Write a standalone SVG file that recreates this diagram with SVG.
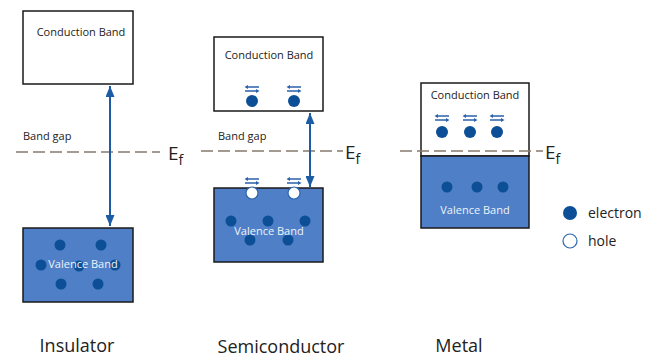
<svg xmlns="http://www.w3.org/2000/svg" width="646" height="358" viewBox="0 0 646 358">
<style>
text{font-family:"Open Sans","Noto Sans","DejaVu Sans",sans-serif;}
.cb{fill:#ffffff;stroke:#1a1a1a;stroke-width:1.5;}
.vb{fill:#4f7fc6;stroke:#1a1a1a;stroke-width:1.5;}
.lbl{font-size:11px;fill:#222;text-anchor:middle;}
.vl{font-size:11px;fill:#eef3fb;text-anchor:middle;}
.e{fill:#0c4f96;}
.h{fill:#ffffff;stroke:#2d66ae;stroke-width:1.2;}
.fermi{stroke:#857a6e;stroke-width:1.5;stroke-dasharray:12 5;fill:none;}
.ef{font-size:19px;fill:#222;}
.efs{font-size:14px;fill:#222;}
.gap{font-size:11px;fill:#222;}
.big{stroke:#1b5ca5;stroke-width:2;fill:none;}
.sm{stroke:#2a62aa;stroke-width:1.3;fill:none;}
.smh{fill:#2a62aa;}
.title{font-size:18px;fill:#222;text-anchor:middle;}
.leg{font-size:14px;fill:#222;}
</style>
<defs>
<marker id="ah" viewBox="0 0 11 9" refX="11" refY="4.5" markerWidth="5.5" markerHeight="4.5" orient="auto-start-reverse" markerUnits="strokeWidth">
<path d="M0,0 L11,4.5 L0,9 Z" fill="#1b5ca5"/>
</marker>
<g id="dbl">
<path class="sm" d="M-5,-2 H7 M-7,2 H5"/>
<path class="smh" d="M-7.5,-2 L-4,-4 L-4,0 Z M7.5,2 L4,0 L4,4 Z"/>
</g>
</defs>

<g id="insulator">
<g id="ins-conduction">
<rect class="cb" x="23" y="11" width="110" height="73"/>
<text class="lbl" x="81" y="36">Conduction Band</text>
</g>
<g id="ins-valence">
<rect class="vb" x="23" y="228" width="110" height="74"/>
<circle class="e" cx="60" cy="245" r="5.5"/>
<circle class="e" cx="101" cy="245" r="5.5"/>
<circle class="e" cx="41" cy="265" r="5.5"/>
<circle class="e" cx="79" cy="266" r="5.5"/>
<circle class="e" cx="115" cy="265" r="5.5"/>
<circle class="e" cx="61" cy="284" r="5.5"/>
<circle class="e" cx="98" cy="284" r="5.5"/>
<text class="vl" x="83" y="268">Valence Band</text>
</g>
<text class="gap" x="23" y="140">Band gap</text>
<text class="title" x="77" y="352">Insulator</text>
</g>

<g id="semiconductor">
<g id="semi-conduction">
<rect class="cb" x="214" y="37" width="109" height="74"/>
<text class="lbl" x="269" y="59">Conduction Band</text>
<use href="#dbl" x="252" y="89"/>
<use href="#dbl" x="294" y="89"/>
<circle class="e" cx="252" cy="101" r="6"/>
<circle class="e" cx="294" cy="101" r="6"/>
</g>
<g id="semi-valence">
<rect class="vb" x="214" y="188" width="109" height="74"/>
<circle class="e" cx="231" cy="221" r="5.5"/>
<circle class="e" cx="268" cy="221" r="5.5"/>
<circle class="e" cx="305" cy="221" r="5.5"/>
<circle class="e" cx="250" cy="240" r="5.5"/>
<circle class="e" cx="288" cy="240" r="5.5"/>
<text class="vl" x="269" y="235">Valence Band</text>
<use href="#dbl" x="252" y="181"/>
<use href="#dbl" x="294" y="181"/>
<circle class="h" cx="252" cy="193" r="6"/>
<circle class="h" cx="294" cy="193" r="6"/>
</g>
<text class="gap" x="218" y="140">Band gap</text>
<text class="title" x="281" y="353">Semiconductor</text>
</g>

<g id="metal">
<g id="metal-conduction">
<rect class="cb" x="421" y="83" width="108" height="73"/>
<text class="lbl" x="475" y="99">Conduction Band</text>
<use href="#dbl" x="442" y="118"/>
<use href="#dbl" x="470" y="118"/>
<use href="#dbl" x="497" y="118"/>
<circle class="e" cx="442" cy="132" r="6"/>
<circle class="e" cx="470" cy="132" r="6"/>
<circle class="e" cx="497" cy="132" r="6"/>
</g>
<g id="metal-valence">
<rect class="vb" x="421" y="156" width="108" height="72"/>
<circle class="e" cx="447" cy="187" r="5.5"/>
<circle class="e" cx="477" cy="187" r="5.5"/>
<circle class="e" cx="503" cy="187" r="5.5"/>
<text class="vl" x="475" y="214">Valence Band</text>
</g>
<text class="title" x="459" y="352">Metal</text>
</g>

<g id="fermi-levels">
<line class="fermi" x1="16" y1="152" x2="160" y2="152"/>
<text class="ef" x="168" y="160">E<tspan class="efs" dy="5">f</tspan></text>
<line class="fermi" x1="201" y1="151" x2="343" y2="151"/>
<text class="ef" x="345" y="159">E<tspan class="efs" dy="5">f</tspan></text>
<line class="fermi" x1="400" y1="151" x2="543" y2="151"/>
<text class="ef" x="545" y="159">E<tspan class="efs" dy="5">f</tspan></text>
</g>

<g id="connectors">
<line class="big" x1="110" y1="86" x2="110" y2="226" marker-start="url(#ah)" marker-end="url(#ah)"/>
<line class="big" x1="310" y1="113" x2="310" y2="187" marker-start="url(#ah)" marker-end="url(#ah)"/>
</g>

<g id="legend">
<circle class="e" cx="570" cy="213" r="7"/>
<text class="leg" x="588" y="218">electron</text>
<circle class="h" cx="570" cy="241" r="7"/>
<text class="leg" x="588" y="246">hole</text>
</g>
</svg>
